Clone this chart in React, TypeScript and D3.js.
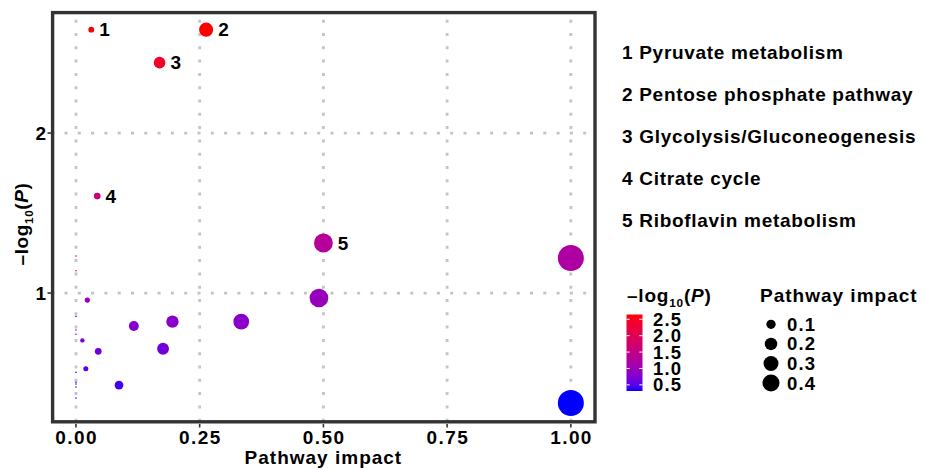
import * as d3 from "d3";
import { useEffect, useRef } from "react";

// pathway impact (x) and -log10(P) (y) for every pathway
const impact = [
  0.031, 0.263, 0.169, 0.043, 0.5, 1.0, 1.0, 0.491, 0.334, 0.195, 0.117,
  0.176, 0.087, 0.023, 0.013, 0.045, 0.02, 0, 0, 0, 0, 0, 0, 0, 0, 0, 0,
];
const logP = [
  2.646, 2.646, 2.44, 1.606, 1.3125, 1.219, 0.3125, 0.969, 0.821, 0.821,
  0.794, 0.652, 0.425, 0.956, 0.704, 0.636, 0.527, 1.231, 1.139, 0.854,
  0.769, 0.742, 0.504, 0.442, 0.431, 0.4125, 0.344,
];
// the first five pathways get a number next to them
const pointLabels = ["1", "2", "3", "4", "5"];
const pathwayNames = [
  "1 Pyruvate metabolism",
  "2 Pentose phosphate pathway",
  "3 Glycolysis/Gluconeogenesis",
  "4 Citrate cycle",
  "5 Riboflavin metabolism",
];
const xTicks = [0, 0.25, 0.5, 0.75, 1];
const yTicks = [1, 2];
const colorTicks = [0.5, 1.0, 1.5, 2.0, 2.5];
const sizeTicks = [0.1, 0.2, 0.3, 0.4];

const FONT = "'Liberation Sans', Arial, Helvetica, sans-serif";

export default function App() {
  const ref = useRef<SVGSVGElement>(null);

  useEffect(() => {
    drawChart();
  }, []);

  function appendLogLabel(sel: any, size: number) {
    sel.append("tspan").text("\u2013log");
    sel.append("tspan")
      .attr("font-size", size * 0.62)
      .attr("dy", size * 0.28)
      .text("10");
    sel.append("tspan").attr("dy", -size * 0.28).text("(");
    sel.append("tspan").attr("font-style", "italic").text("P");
    sel.append("tspan").text(")");
  }

  function drawChart() {
    const svg = d3.select(ref.current);
    svg.selectAll("*").remove();
    svg.attr("font-family", FONT).attr("font-weight", "bold");

    const data = impact.map((d, i) => ({
      impact: d,
      logP: logP[i],
      label: pointLabels[i] || "",
    }));

    const [minP, maxP] = d3.extent(logP) as [number, number];
    const pad = (maxP - minP) * 0.05;

    const x = d3.scaleLinear().domain([-0.05, 1.05]).range([51.2, 595.6]);
    const y = d3.scaleLinear().domain([minP - pad, maxP + pad]).range([421.7, 11]);
    const r = d3.scaleSqrt().domain([0, 1]).range([0.8, 13]);
    const color = d3
      .scaleLinear<string>()
      .domain([minP, maxP])
      .range(["blue", "red"])
      .interpolate(d3.interpolateLab);

    const [yBottom, yTop] = y.range();
    const [xLeft, xRight] = x.range();

    // grid
    const grid = svg.append("g")
      .attr("stroke", "#c4c4c4")
      .attr("stroke-width", 2.8)
      .attr("stroke-dasharray", "3 10.3");
    grid.selectAll("line.v")
      .data(xTicks)
      .join("line")
      .attr("x1", (d) => x(d))
      .attr("x2", (d) => x(d))
      .attr("y1", yBottom)
      .attr("y2", yTop);
    grid.selectAll("line.h")
      .data(yTicks)
      .join("line")
      .attr("x1", xLeft)
      .attr("x2", xRight)
      .attr("y1", (d) => y(d))
      .attr("y2", (d) => y(d));

    // points
    svg.append("g")
      .selectAll("circle")
      .data(data)
      .join("circle")
      .attr("cx", (d) => x(d.impact))
      .attr("cy", (d) => y(d.logP))
      .attr("r", (d) => r(d.impact))
      .attr("fill", (d) => color(d.logP));

    svg.append("g")
      .selectAll("text")
      .data(data.filter((d) => d.label))
      .join("text")
      .attr("x", (d) => x(d.impact) + r(d.impact) + 5)
      .attr("y", (d) => y(d.logP) + 6.8)
      .attr("font-size", 19)
      .text((d) => d.label);

    // panel border
    svg.append("rect")
      .attr("x", 52.6)
      .attr("y", 12.6)
      .attr("width", 542.4)
      .attr("height", 409.2)
      .attr("fill", "none")
      .attr("stroke", "#333333")
      .attr("stroke-width", 3.4);

    // axes
    const axis = svg.append("g").attr("stroke", "#333333").attr("stroke-width", 1.6);
    axis.selectAll("line.yt")
      .data(yTicks)
      .join("line")
      .attr("x1", 47.5)
      .attr("x2", 51)
      .attr("y1", (d) => y(d))
      .attr("y2", (d) => y(d));
    axis.selectAll("line.xt")
      .data(xTicks)
      .join("line")
      .attr("x1", (d) => x(d))
      .attr("x2", (d) => x(d))
      .attr("y1", 424)
      .attr("y2", 427.5);

    svg.append("g")
      .selectAll("text")
      .data(yTicks)
      .join("text")
      .attr("x", 46)
      .attr("y", (d) => y(d) + 6.8)
      .attr("text-anchor", "end")
      .attr("font-size", 19)
      .text((d) => d3.format("d")(d));

    svg.append("g")
      .selectAll("text")
      .data(xTicks)
      .join("text")
      .attr("x", (d) => x(d) + 0.7)
      .attr("y", 444)
      .attr("text-anchor", "middle")
      .attr("font-size", 19)
      .attr("letter-spacing", 1.4)
      .text((d) => d3.format(".2f")(d));

    svg.append("text")
      .attr("x", (xLeft + xRight) / 2)
      .attr("y", 464)
      .attr("text-anchor", "middle")
      .attr("font-size", 19)
      .attr("letter-spacing", 1)
      .text("Pathway impact");

    const yTitle = svg.append("text")
      .attr("transform", `translate(28,224) rotate(-90)`)
      .attr("text-anchor", "middle")
      .attr("font-size", 19)
      .attr("letter-spacing", 0.6);
    appendLogLabel(yTitle, 19);

    // pathway name list
    svg.append("g")
      .selectAll("text")
      .data(pathwayNames)
      .join("text")
      .attr("x", 622)
      .attr("y", (d, i) => 59.3 + i * 41.9)
      .attr("font-size", 19)
      .attr("letter-spacing", 0.7)
      .text((d) => d);

    // colour legend
    const cb = d3.scaleLinear().domain([minP, maxP]).range([391, 314.5]);
    const grad = svg.append("defs")
      .append("linearGradient")
      .attr("id", "cbar")
      .attr("x1", 0).attr("x2", 0).attr("y1", 1).attr("y2", 0);
    d3.range(0, 1.0001, 0.05).forEach((t) => {
      grad.append("stop")
        .attr("offset", t)
        .attr("stop-color", color(minP + t * (maxP - minP)));
    });

    const cTitle = svg.append("text")
      .attr("x", 627)
      .attr("y", 302)
      .attr("font-size", 19)
      .attr("letter-spacing", 0.8);
    appendLogLabel(cTitle, 19);

    svg.append("rect")
      .attr("x", 626.5)
      .attr("y", cb(maxP))
      .attr("width", 16)
      .attr("height", cb(minP) - cb(maxP))
      .attr("fill", "url(#cbar)");

    const cbTicks = svg.append("g").attr("stroke", "white").attr("stroke-width", 1);
    colorTicks.forEach((v) => {
      cbTicks.append("line")
        .attr("x1", 626.5).attr("x2", 629.7)
        .attr("y1", cb(v)).attr("y2", cb(v));
      cbTicks.append("line")
        .attr("x1", 639.3).attr("x2", 642.5)
        .attr("y1", cb(v)).attr("y2", cb(v));
    });

    svg.append("g")
      .selectAll("text")
      .data(colorTicks)
      .join("text")
      .attr("x", 653)
      .attr("y", (d) => cb(d) + 6.5)
      .attr("font-size", 18.5)
      .attr("letter-spacing", 1.2)
      .text((d) => d3.format(".1f")(d));

    // size legend
    svg.append("text")
      .attr("x", 760)
      .attr("y", 302)
      .attr("font-size", 19)
      .attr("letter-spacing", 1)
      .text("Pathway impact");

    const sizeY = (i: number) => 324.3 + i * 19.6;
    svg.append("g")
      .selectAll("circle")
      .data(sizeTicks)
      .join("circle")
      .attr("cx", 771)
      .attr("cy", (d, i) => sizeY(i))
      .attr("r", (d) => r(d))
      .attr("fill", "black");

    svg.append("g")
      .selectAll("text")
      .data(sizeTicks)
      .join("text")
      .attr("x", 787)
      .attr("y", (d, i) => sizeY(i) + 6.5)
      .attr("font-size", 18.5)
      .attr("letter-spacing", 1.2)
      .text((d) => d3.format(".1f")(d));
  }

  return (
    <svg
      ref={ref}
      width={925}
      height={469}
      style={{ position: "absolute", left: 0, top: 0, background: "white" }}
    />
  );
}
